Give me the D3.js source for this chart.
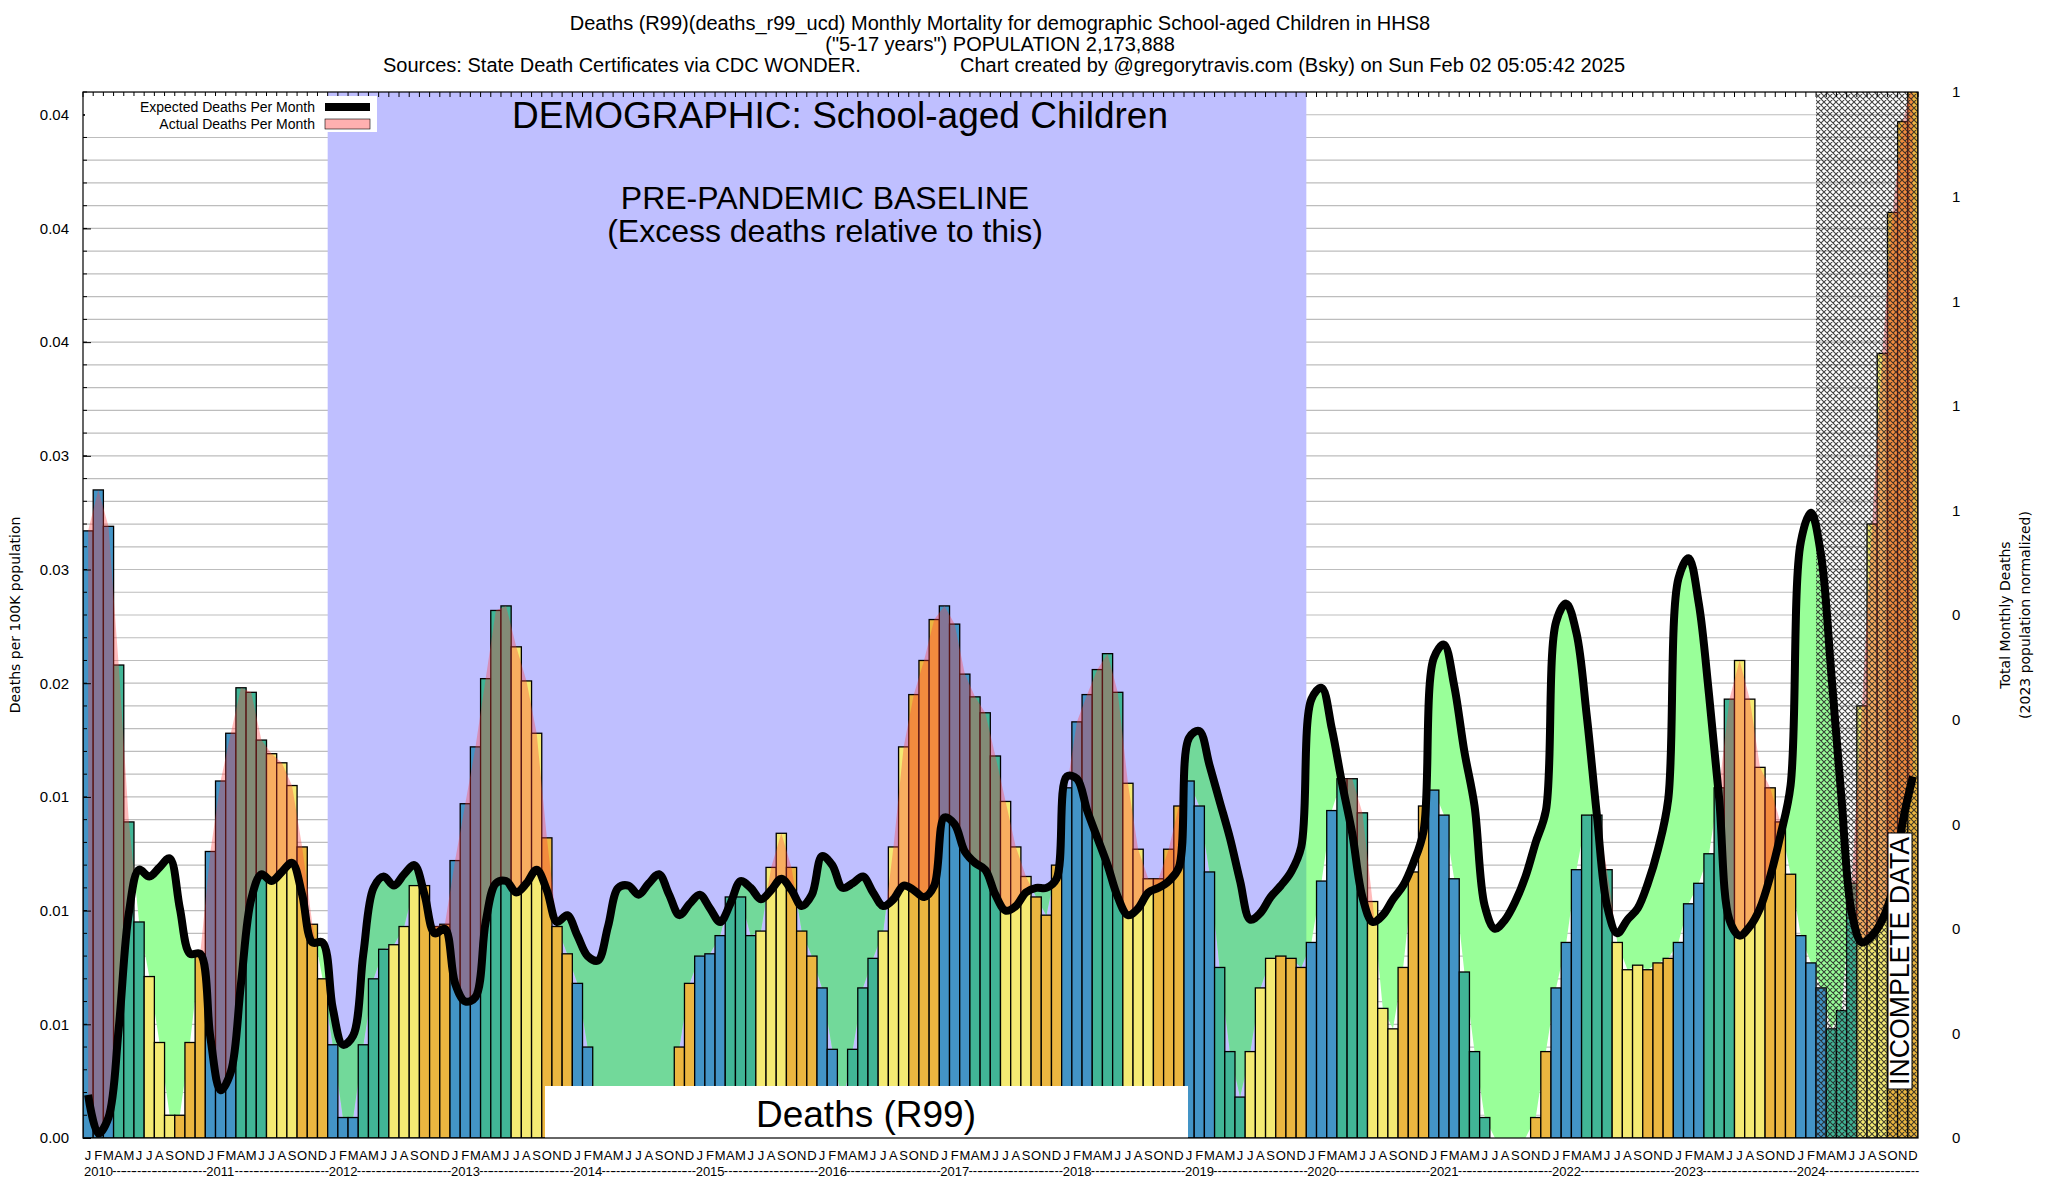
<!DOCTYPE html>
<html><head><meta charset="utf-8">
<script src="https://cdn.jsdelivr.net/npm/d3@7/dist/d3.min.js"></script>
<style>body{margin:0;background:#fff}svg{font-family:"Liberation Sans",Arial,sans-serif}</style>
</head><body><svg id="c" width="2048" height="1200"></svg>
<script>
const years=[2010,2011,2012,2013,2014,2015,2016,2017,2018,2019,2020,2021,2022,2023,2024];
const monthLetters=["J","F","M","A","M","J","J","A","S","O","N","D"];
const seasonColors=["#4394c6","#41b596","#f4ea73","#ebb640"];
// deaths per 100K, in thousandths
const actualDeaths=[
26.7,28.5,26.9,20.8,13.9,9.5,7.1,4.2,1.0,1.0,4.2,8.1,
12.6,15.7,17.8,19.8,19.6,17.5,16.9,16.5,15.5,12.8,9.4,7.0,
4.1,0.9,0.9,4.1,7.0,8.3,8.5,9.3,11.1,11.1,9.3,9.4,
12.2,14.7,17.2,20.2,23.2,23.4,21.6,20.1,17.8,13.2,9.3,8.1,
6.8,4.0,1.0,1.0,1.0,1.0,1.0,1.0,1.0,1.0,4.0,6.8,
8.0,8.1,8.9,10.6,10.6,8.9,9.1,11.9,13.4,11.9,9.1,8.0,
6.6,3.9,1.5,3.9,6.6,7.9,9.1,12.8,17.2,19.5,21.0,22.8,
23.4,22.6,20.4,19.4,18.7,16.8,14.8,12.8,11.5,10.6,9.8,12.0,
15.4,18.3,19.5,20.6,21.3,19.6,15.6,12.7,11.4,11.4,12.7,14.6,
15.7,14.6,11.7,7.5,3.8,1.8,3.8,6.6,7.9,8.0,7.9,7.5,
8.6,11.3,14.4,15.8,15.8,14.3,10.4,5.7,4.8,7.5,11.7,14.6,
15.3,14.2,11.4,7.3,3.8,0.9,0,0,0,0,0.9,3.8,
6.6,8.6,11.8,14.2,14.2,11.8,8.6,7.4,7.6,7.4,7.7,7.9,
8.6,10.3,11.2,12.5,15.4,19.3,21.0,19.3,16.3,15.4,13.9,11.6,
8.9,7.7,6.6,4.8,5.6,11.2,19.0,27.0,34.5,40.7,44.7,46.5];
const expectedDeaths=[
1.9,0.2,0.9,4.8,9.9,11.8,11.5,11.9,12.3,10.1,8.1,8.1,
4.4,2.1,2.9,6.8,10.5,11.6,11.3,11.7,12.1,10.7,8.6,8.6,
5.7,4.1,4.5,8.1,11.0,11.5,11.1,11.6,12.0,10.7,9.0,9.2,
6.8,6.0,6.2,9.5,11.2,11.3,10.8,11.2,11.8,10.9,9.5,9.8,
8.9,8.0,7.8,9.3,11.0,11.1,10.7,11.2,11.6,10.7,9.8,10.3,
10.7,10.1,9.5,10.3,11.3,11.0,10.5,10.9,11.4,10.9,10.2,10.7,
12.4,12.0,11.0,11.2,11.5,10.8,10.2,10.5,11.1,10.9,10.6,11.1,
14.1,13.8,12.6,12.1,11.8,10.7,10.0,10.2,10.8,11.0,11.0,11.4,
15.9,15.8,14.4,13.2,12.0,10.6,9.8,10.1,10.8,11.0,11.3,11.9,
17.6,17.9,16.4,14.8,13.2,11.3,9.6,9.9,10.6,11.1,11.7,12.8,
19.3,19.8,18.0,15.6,13.4,10.6,9.5,9.8,10.5,11.1,12.1,13.5,
21.1,21.7,19.9,17.0,14.6,10.2,9.2,9.6,10.4,11.5,13.0,14.4,
22.7,23.5,22.2,18.6,14.2,10.2,9.0,9.6,10.1,11.2,12.7,14.9,
24.6,25.5,23.5,19.5,14.9,9.6,8.9,9.3,10.1,11.5,13.3,15.5,
26.2,27.5,25.6,20.4,14.9,9.9,8.6,8.9,9.6,10.9,13.9,15.9];
const leftTickValues=[0,0.005,0.01,0.015,0.02,0.025,0.03,0.035,0.04,0.045];
const leftTickLabels=["0.00","0.01","0.01","0.01","0.02","0.03","0.03","0.04","0.04","0.04"];
const rightTickLabels=["0","0","0","0","0","0","1","1","1","1","1"];
const baselineStart=24, baselineEnd=120, incompleteStart=170;

const svg=d3.select("#c");
const L=83,R=1918,T=92,B=1138;
const n=actualDeaths.length;
const x=d3.scaleLinear().domain([0,n]).range([L,R]);
const y=d3.scaleLinear().domain([0,0.046]).range([B,T]);
const yr=d3.scaleLinear().domain([0,10]).range([B,T]);
const act=actualDeaths.map(v=>v/1000), exp=expectedDeaths.map(v=>v/1000);
const cx=i=>x(i+0.5);
const defs=svg.append("defs");
defs.append("clipPath").attr("id","plot").append("rect").attr("x",L).attr("y",T).attr("width",R-L).attr("height",B-T);
defs.append("clipPath").attr("id","aboveAct").append("path")
 .attr("d",d3.area().x((d,i)=>cx(i)).y0(T).y1(d=>y(d))(act));
defs.append("clipPath").attr("id","aboveExp").append("path")
 .attr("d",d3.area().curve(d3.curveCatmullRom).x((d,i)=>cx(i)).y0(T).y1(d=>y(d))(exp));
defs.append("clipPath").attr("id","baseReg").append("rect").attr("x",x(baselineStart)).attr("y",T).attr("width",x(baselineEnd)-x(baselineStart)).attr("height",B-T);
const pat=defs.append("pattern").attr("id","hatch").attr("patternUnits","userSpaceOnUse").attr("width",6).attr("height",6);
pat.append("path").attr("d","M0,0L6,6M6,0L0,6M-1,5L1,7M5,-1L7,1M-1,1L1,-1M5,7L7,5").attr("stroke","#222").attr("stroke-width",1.1);

const g=svg.append("g").attr("clip-path","url(#plot)");
d3.range(1,47).forEach(k=>{g.append("line").attr("x1",L).attr("x2",R).attr("y1",y(k/1000)).attr("y2",y(k/1000)).attr("stroke","#bdbdbd").attr("stroke-width",1.2);});
g.append("rect").attr("x",x(baselineStart)).attr("y",T).attr("width",x(baselineEnd)-x(baselineStart)).attr("height",B-T).attr("fill","#bfbfff");
const expArea=d3.area().curve(d3.curveCatmullRom).x((d,i)=>cx(i)).y0(B).y1(d=>y(d));
const gg=g.append("g").attr("clip-path","url(#aboveAct)");
gg.append("path").attr("d",expArea(exp)).attr("fill","#99ff99");
gg.append("g").attr("clip-path","url(#baseReg)").append("path").attr("d",expArea(exp)).attr("fill","#72d99a");
g.selectAll("rect.bar").data(act).join("rect").attr("class","bar")
 .attr("x",(d,i)=>x(i)).attr("width",x(1)-x(0)).attr("y",d=>y(d)).attr("height",d=>B-y(d))
 .attr("fill",(d,i)=>seasonColors[Math.floor((i%12)/3)]).attr("stroke","#000").attr("stroke-width",1.3);
g.append("g").attr("clip-path","url(#aboveExp)").append("path")
 .attr("d",d3.area().x((d,i)=>cx(i)).y0(B).y1(d=>y(d))(act)).attr("fill","rgba(255,60,60,0.35)");
g.append("rect").attr("x",x(incompleteStart)).attr("y",T).attr("width",R-x(incompleteStart)).attr("height",B-T).attr("fill","url(#hatch)").attr("opacity",0.85);
g.append("path").attr("d",d3.line().curve(d3.curveCatmullRom).x((d,i)=>cx(i)).y(d=>y(d))(exp))
 .attr("fill","none").attr("stroke","#000").attr("stroke-width",8).attr("stroke-linejoin","round");
svg.append("rect").attr("x",545).attr("y",1086).attr("width",643).attr("height",B-1086).attr("fill","#fff");
svg.append("text").attr("x",866).attr("y",1127).attr("text-anchor","middle").attr("font-size",37).text("Deaths (R99)");
svg.append("rect").attr("x",1888).attr("y",833).attr("width",24).attr("height",256).attr("fill","#fff").attr("stroke","#000");
svg.append("text").attr("transform","translate(1909,961) rotate(-90)").attr("text-anchor","middle").attr("font-size",27).attr("textLength",248).attr("lengthAdjust","spacingAndGlyphs").text("INCOMPLETE DATA");
svg.append("rect").attr("x",L).attr("y",T).attr("width",R-L).attr("height",B-T).attr("fill","none").attr("stroke","#000").attr("stroke-width",1.2);
const la=svg.append("g").attr("transform",`translate(${L},0)`).call(d3.axisLeft(y).tickValues(leftTickValues).tickFormat((d,i)=>leftTickLabels[i]).tickSize(-8).tickPadding(14));
la.select(".domain").remove();
la.selectAll("text").attr("font-size",15).attr("font-family","Liberation Sans");
d3.range(1,47).forEach(k=>svg.append("line").attr("x1",L).attr("x2",L+4).attr("y1",y(k/1000)).attr("y2",y(k/1000)).attr("stroke","#000"));
const ra=svg.append("g").attr("transform",`translate(${R},0)`).call(d3.axisRight(yr).tickValues(d3.range(11)).tickFormat((d,i)=>rightTickLabels[i]).tickSize(0).tickPadding(34));
ra.select(".domain").remove();
ra.selectAll("text").attr("font-size",15).attr("font-family","Liberation Sans");
d3.range(n+1).forEach(i=>svg.append("line").attr("x1",x(i)).attr("x2",x(i)).attr("y1",T).attr("y2",T+5).attr("stroke","#000"));
d3.range(n).forEach(i=>{
 svg.append("text").attr("x",cx(i)).attr("y",1160).attr("text-anchor","middle").attr("font-size",13).text(monthLetters[i%12]);
 if(i%12===0) svg.append("text").attr("x",x(i)+1).attr("y",1176).attr("font-size",13).text(years[i/12]);
 else if(i%12>2) svg.append("text").attr("x",cx(i)).attr("y",1175).attr("text-anchor","middle").attr("font-size",13).text("---");
});
svg.append("text").attr("transform","translate(20,615) rotate(-90)").attr("text-anchor","middle").attr("font-size",14).attr("font-family","DejaVu Sans").text("Deaths per 100K population");
svg.append("text").attr("transform","translate(2010,615) rotate(-90)").attr("text-anchor","middle").attr("font-size",14).attr("font-family","DejaVu Sans").text("Total Monthly Deaths");
svg.append("text").attr("transform","translate(2030,615) rotate(-90)").attr("text-anchor","middle").attr("font-size",14).attr("font-family","DejaVu Sans").text("(2023 population normalized)");
svg.append("text").attr("x",1000).attr("y",30).attr("text-anchor","middle").attr("font-size",20).text("Deaths (R99)(deaths_r99_ucd) Monthly Mortality for demographic School-aged Children in HHS8");
svg.append("text").attr("x",1000).attr("y",51).attr("text-anchor","middle").attr("font-size",20).text('("5-17 years") POPULATION 2,173,888');
svg.append("text").attr("x",383).attr("y",72).attr("font-size",20).text("Sources: State Death Certificates via CDC WONDER.");
svg.append("text").attr("x",960).attr("y",72).attr("font-size",20).text("Chart created by @gregorytravis.com (Bsky) on Sun Feb 02 05:05:42 2025");
svg.append("text").attr("x",840).attr("y",128).attr("text-anchor","middle").attr("font-size",37).text("DEMOGRAPHIC: School-aged Children");
svg.append("text").attr("x",825).attr("y",209).attr("text-anchor","middle").attr("font-size",32).text("PRE-PANDEMIC BASELINE");
svg.append("text").attr("x",825).attr("y",242).attr("text-anchor","middle").attr("font-size",32).text("(Excess deaths relative to this)");
svg.append("rect").attr("x",85).attr("y",96).attr("width",292).attr("height",36).attr("fill","#fff");
svg.append("text").attr("x",315).attr("y",112).attr("text-anchor","end").attr("font-size",14).text("Expected Deaths Per Month");
svg.append("text").attr("x",315).attr("y",129).attr("text-anchor","end").attr("font-size",14).text("Actual Deaths Per Month");
svg.append("rect").attr("x",325).attr("y",103).attr("width",45).attr("height",8).attr("fill","#000");
svg.append("rect").attr("x",325).attr("y",119).attr("width",45).attr("height",10).attr("fill","#ffb0b0").attr("stroke","#000").attr("stroke-width",0.6);
</script></body></html>
